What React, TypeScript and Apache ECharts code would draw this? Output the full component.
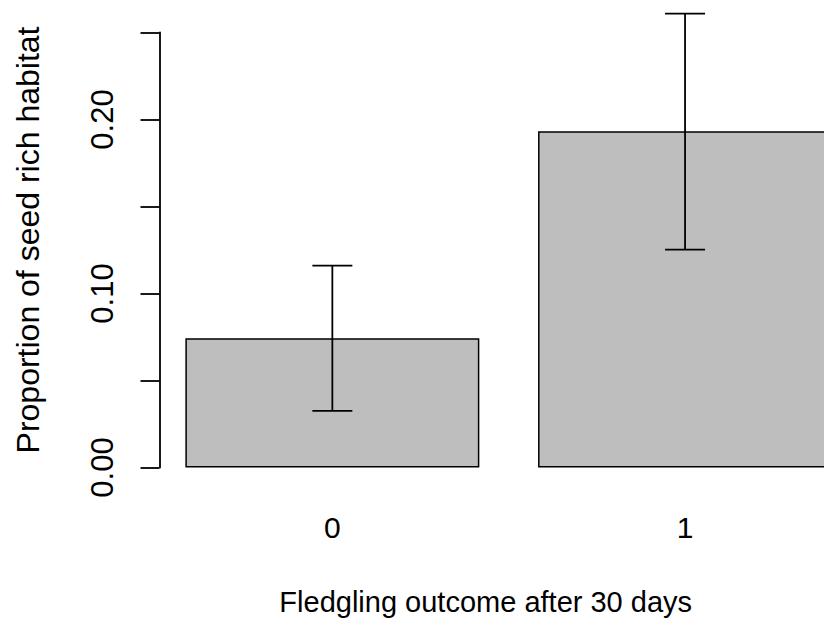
import React, { useEffect, useRef } from "react";
import * as echarts from "echarts";

const categories = ["0", "1"];
const meanValues = [0.0743, 0.1932];
const lowerValues = [0.0326, 0.1252];
const upperValues = [0.116, 0.2608];
const yTickLabels: Record<string, string> = { "0": "0.00", "10": "0.10", "20": "0.20" };

const xTitle = "Fledgling outcome after 30 days";
const yTitle = "Proportion of seed rich habitat";

const FONT = "'Liberation Sans', Arial, Helvetica, sans-serif";

export default function App() {
  const ref = useRef<HTMLDivElement>(null);
  useEffect(() => {
    if (!ref.current) return;
    const chart = echarts.init(ref.current, null, { renderer: "svg" });
    const option: any = {
      animation: false,
      backgroundColor: "#ffffff",
      textStyle: { fontFamily: FONT, color: "#000" },
      grid: { left: 156, right: 38.6, top: 32.5, bottom: 158.5, containLabel: false, outerBoundsMode: "none" },
      xAxis: {
        type: "category",
        data: categories,
        axisLine: { show: false },
        axisTick: { show: false },
        splitLine: { show: false },
        axisLabel: { fontSize: 30, color: "#000", margin: 45, fontFamily: FONT },
        name: xTitle,
        nameLocation: "middle",
        nameGap: 120,
        nameTextStyle: { fontSize: 29, color: "#000", fontFamily: FONT, padding: [0, 46, 0, 0] },
      },
      yAxis: {
        type: "value",
        min: 0,
        max: 0.25,
        interval: 0.05,
        offset: -3.5,
        splitLine: { show: false },
        axisLine: { show: true, lineStyle: { color: "#000", width: 1.8 } },
        axisTick: { show: true, length: 19, lineStyle: { color: "#000", width: 1.8 } },
        axisLabel: {
          rotate: 90,
          fontSize: 31,
          color: "#000",
          margin: 42,
          fontFamily: FONT,
          formatter: (v: number) => yTickLabels[String(Math.round(v * 100))] ?? "",
        },
        name: yTitle,
        nameLocation: "middle",
        nameRotate: 90,
        nameGap: 116,
        nameTextStyle: { fontSize: 32, color: "#000", fontFamily: FONT, padding: [0, 0, 0, 20] },
      },
      series: [
        {
          type: "bar",
          data: meanValues,
          barWidth: 294,
          itemStyle: { color: "#bebebe", borderColor: "#000", borderWidth: 1.5 },
          z: 2,
        },
        {
          type: "custom",
          z: 5,
          clip: false,
          encode: { x: 0, y: [1, 2] },
          data: categories.map((_, i) => [i, lowerValues[i], upperValues[i]]),
          renderItem: (params: any, api: any) => {
            const i = api.value(0);
            const lo = api.coord([i, api.value(1)]);
            const hi = api.coord([i, api.value(2)]);
            const half = 20;
            const style = { stroke: "#000", lineWidth: 1.8 };
            return {
              type: "group",
              children: [
                { type: "line", shape: { x1: lo[0], y1: lo[1], x2: hi[0], y2: hi[1] }, style },
                { type: "line", shape: { x1: hi[0] - half, y1: hi[1], x2: hi[0] + half, y2: hi[1] }, style },
                { type: "line", shape: { x1: lo[0] - half, y1: lo[1], x2: lo[0] + half, y2: lo[1] }, style },
              ],
            };
          },
        },
      ],
    };
    chart.setOption(option);
    return () => chart.dispose();
  }, []);
  return (
    <div style={{ position: "absolute", left: 0, top: 0, width: 824, height: 626, overflow: "hidden" }}>
      <div ref={ref} style={{ position: "absolute", left: 0, top: 0, width: 900, height: 626 }} />
    </div>
  );
}
